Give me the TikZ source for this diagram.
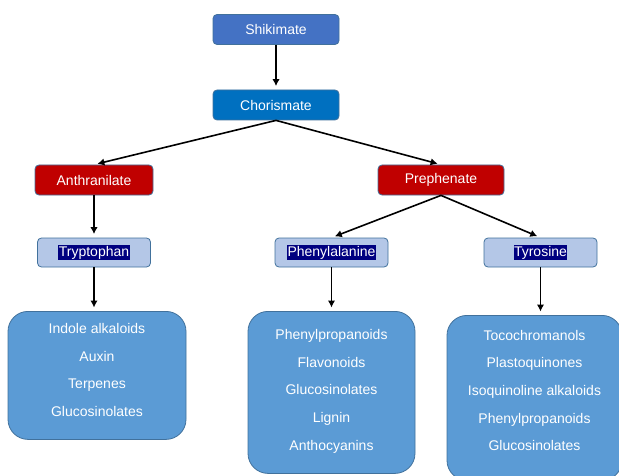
\documentclass[tikz,border=0pt]{standalone}
\usepackage{fontspec}
\setmainfont{Liberation Sans}
\usetikzlibrary{arrows.meta}
\definecolor{shikiblue}{HTML}{4472C4}
\definecolor{choriblue}{HTML}{0070C0}
\definecolor{acidred}{HTML}{C00000}
\definecolor{aminoblue}{HTML}{B4C7E7}
\definecolor{productblue}{HTML}{5B9BD5}
\definecolor{rimblue}{HTML}{41719C}
\definecolor{markblue}{HTML}{000080}
\newcommand{\marked}[1]{{\setlength{\fboxsep}{0.5pt}\colorbox{markblue}{#1}}}
\begin{document}
\begin{tikzpicture}
        [
        x=1pt, y=1pt,
        every node/.style={draw=rimblue, line width=0.8pt, text=white, inner sep=0pt,
            rounded corners=4pt, font=\fontsize{14}{16}\selectfont},
        substrate/.style={minimum width=126pt, minimum height=30pt},
        precursor/.style={fill=acidred, minimum width=126pt, minimum height=30pt},
        aminoacid/.style={fill=aminoblue, minimum width=113pt, minimum height=29pt},
        products/.style={fill=productblue, rounded corners=20pt, anchor=north,
            align=center, font=\fontsize{14}{27.7}\selectfont},
        level 1/.style={level distance=75.5pt},
        level 2/.style={level distance=75pt, sibling distance=347pt},
        level 3/.style={level distance=72.5pt, sibling distance=209pt},
        level 4/.style={level distance=58.5pt,
            edge from parent path={(\tikzparentnode.south) -- (\tikzparentnode.south |- \tikzchildnode.north)}},
        edge from parent/.style={draw=black, line width=1.6pt, -{Latex[length=7pt,width=7.5pt]}, shorten >=3.5pt},
        parent anchor=south, child anchor=north,
        ]
        \useasboundingbox (0,0) rectangle (619,475);
        \clip (0,0) rectangle (619,475);
	    \node[substrate, fill=shikiblue] (shikimate) at (276,445.5) {Shikimate}
		child {node[substrate, fill=choriblue] (chorismate) {Chorismate}
                child[xshift=-8.5pt] {node[precursor, minimum width=118pt] (anthranilate) {Anthranilate}
                        child {node[aminoacid] (tryptophan) {\marked{Tryptophan}}
                                child {node[products, xshift=3pt, text depth=11pt, minimum width=178pt, minimum height=128pt] (trpproducts)
                                    {Indole alkaloids\\Auxin\\Terpenes\\Glucosinolates}}
                        }
                }
                child[xshift=-8.5pt] {node[precursor] (prephenate) {Prephenate}
                        child[xshift=-5pt] {node[aminoacid] (phenylalanine) {\marked{Phenylalanine}}
                                child {node[products, text depth=5pt, minimum width=167pt, minimum height=162pt] (pheproducts)
                                    {Phenylpropanoids\\Flavonoids\\Glucosinolates\\Lignin\\Anthocyanins}}
                        }
                        child[xshift=-5pt] {node[aminoacid] (tyrosine) {\marked{Tyrosine}}
                                child {node[products, xshift=-6pt, yshift=-4pt, text depth=15pt, minimum width=175pt, minimum height=165pt] (tyrproducts)
                                    {Tocochromanols\\Plastoquinones\\Isoquinoline alkaloids\\Phenylpropanoids\\Glucosinolates}}
                        }
                }
        };
        \end{tikzpicture}
\end{document}
